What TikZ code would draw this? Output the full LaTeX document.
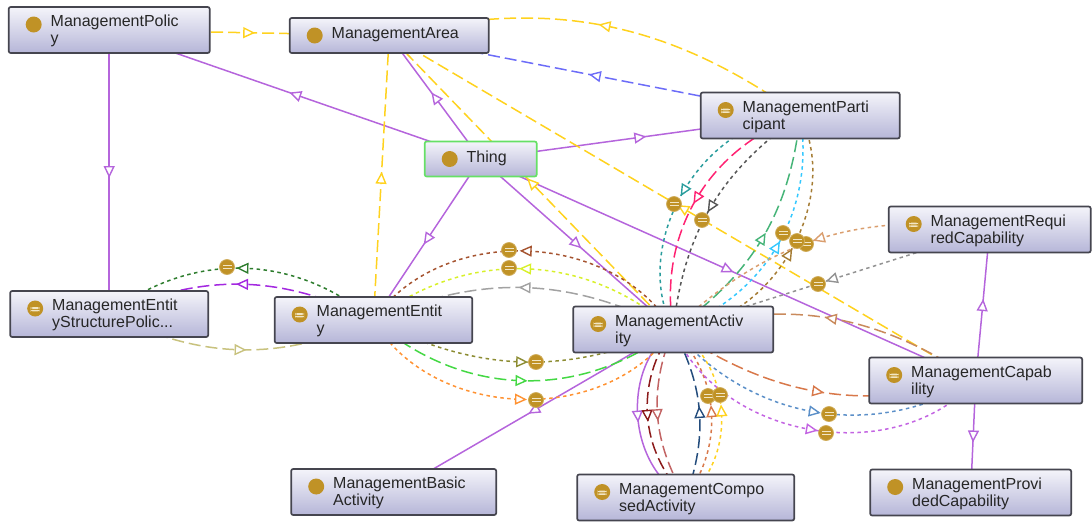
\documentclass[tikz,border=0pt]{standalone}
\usepackage{fontspec}
\setsansfont{Liberation Sans}
\usepackage{xcolor}
\usetikzlibrary{arrows.meta, positioning, decorations.markings}

\definecolor{boxborder}{HTML}{45454F}
\definecolor{boxtop}{HTML}{F4F4FA}
\definecolor{boxbottom}{HTML}{B6B6D8}
\definecolor{iconfill}{HTML}{C09226}
\definecolor{iconbar}{HTML}{F2E6C4}
\definecolor{thinggreen}{HTML}{66E066}
\definecolor{subclass}{HTML}{B565DC}
\definecolor{yellowline}{HTML}{FFD21E}
\definecolor{blueline}{HTML}{6C6CF8}
\definecolor{darkgreen}{HTML}{2E7D2E}
\definecolor{violet}{HTML}{A328E0}
\definecolor{khaki}{HTML}{C8C27E}
\definecolor{greyline}{HTML}{A2A2A2}
\definecolor{limeline}{HTML}{D8F02A}
\definecolor{rustline}{HTML}{A5532F}
\definecolor{oliveline}{HTML}{8C8C32}
\definecolor{greenline}{HTML}{44D844}
\definecolor{orangeline}{HTML}{FF9232}
\definecolor{darkred}{HTML}{8B1A1A}
\definecolor{palered}{HTML}{C26464}
\definecolor{navyline}{HTML}{234C7C}
\definecolor{coralline}{HTML}{D8784A}
\definecolor{steelline}{HTML}{5B8FC8}
\definecolor{orchidline}{HTML}{C364E2}
\definecolor{tanline}{HTML}{C98A5C}
\definecolor{tealline}{HTML}{2A9D9D}
\definecolor{pinkline}{HTML}{FF2272}
\definecolor{slateline}{HTML}{555555}
\definecolor{seagreen}{HTML}{46B478}
\definecolor{cyanline}{HTML}{34C8FF}
\definecolor{brownline}{HTML}{A57C34}
\definecolor{sandline}{HTML}{DA9E6E}
\definecolor{ashline}{HTML}{929292}

\pgfdeclarelayer{edges}
\pgfsetlayers{edges,main}

\begin{document}
\begin{tikzpicture}[
        x=1pt, y=1pt,
        class/.style={rectangle, draw=boxborder, line width=1.7pt, rounded corners=2pt, top color=boxtop, bottom color=boxbottom, inner xsep=0pt, inner ysep=0pt, outer sep=0pt, minimum height=46pt, align=left, text height=14pt, text=black!85, font=\sffamily\fontsize{16}{17}\selectfont, execute at begin node={\leftskip=42pt},
            path picture={\fill[iconfill] ([shift={(25pt,-17.5pt)}]path picture bounding box.north west) circle (8pt);}},
        shortclass/.style={class, minimum height=35pt, text depth=7.5pt},
        eqclass/.style={class,
            path picture={\fill[iconfill] ([shift={(25pt,-17.5pt)}]path picture bounding box.north west) circle (8pt);
                \fill[iconbar] ([shift={(20.5pt,-16.2pt)}]path picture bounding box.north west) rectangle ++(9pt,-1.6pt);
                \fill[iconbar] ([shift={(20.5pt,-20.4pt)}]path picture bounding box.north west) rectangle ++(9pt,1.6pt);}},
        badge/.style={circle, fill=iconfill, draw=iconfill!75!white, line width=0.8pt, minimum size=15pt, inner sep=0pt, outer sep=0pt,
            path picture={\fill[iconbar] ([shift={(-4.5pt,2.2pt)}]path picture bounding box.center) rectangle ++(9pt,-1.6pt);
                \fill[iconbar] ([shift={(-4.5pt,-2.2pt)}]path picture bounding box.center) rectangle ++(9pt,1.6pt);}},
        relation/.style={line width=1.5pt, postaction={decorate}, decoration={markings, mark=at position 0.5 with {\pgftransformxshift{6pt}\arrow{Triangle[fill=white, length=12pt, width=11pt, line width=1.4pt]}}}},
        dashedrelation/.style={relation, dash pattern=on 12pt off 5pt},
        dottedrelation/.style={relation, dash pattern=on 3.5pt off 3.5pt}
        ]
        \useasboundingbox (0,0) rectangle (1092,-523);

        % Classes
        \node[class, anchor=north west, text width=201pt] (policy) at (8.7,-7) {ManagementPolic\\y};
        \node[shortclass, text width=199pt, right=80pt of policy, yshift=-5.5pt] (area) {ManagementArea};
        \node[shortclass, text width=112pt, draw=thinggreen, below right=88.5pt and -64pt of area] (thing) {Thing};
        \node[eqclass, text width=199pt, below right=39.5pt and 212pt of area] (participant) {ManagementParti\\cipant};
        \node[eqclass, text width=202pt, below right=68pt and -11pt of participant] (required) {ManagementRequi\\redCapability};
        \node[eqclass, text width=198pt, below=238pt of policy] (entitypolicy) {ManagementEntit\\yStructurePolic...};
        \node[eqclass, text width=197.5pt, right=66.5pt of entitypolicy, yshift=-6pt] (entity) {ManagementEntit\\y};
        \node[class, text width=205pt, below right=126pt and -181pt of entity] (basic) {ManagementBasic\\Activity};
        \node[eqclass, text width=200pt, right=101pt of entity, yshift=-9.5pt] (activity) {ManagementActiv\\ity};
        \node[eqclass, text width=217pt, below=122pt of activity, xshift=12.5pt] (composed) {ManagementCompo\\sedActivity};
        \node[eqclass, text width=213pt, below right=5pt and 96pt of activity] (capability) {ManagementCapab\\ility};
        \node[class, text width=201pt, below=66pt of capability, xshift=-5pt] (provided) {ManagementProvi\\dedCapability};

        \begin{pgfonlayer}{edges}
        % Subclass relations
        \draw[relation, subclass] (policy.center) -- (entitypolicy.center);
        \draw[relation, subclass] (thing.center) -- (policy.center);
        \draw[relation, subclass] (thing.center) -- (area.center);
        \draw[relation, subclass] (thing.center) -- (entity.center);
        \draw[relation, subclass] (thing.center) -- (activity.center);
        \draw[relation, subclass] (thing.center) -- (participant.center);
        \draw[relation, subclass] (thing.center) -- (capability.center);
        \draw[relation, subclass] (capability.center) -- (required.center);
        \draw[relation, subclass] (capability.center) -- (provided.center);
        \draw[relation, subclass] (activity.center) -- (basic.center);
        \draw[relation, subclass] (activity.center) to[bend right=58] (composed.center);

        % Relations of the area
        \draw[dashedrelation, yellowline] (policy.center) -- (area.center);
        \draw[dashedrelation, yellowline] (entity.center) -- (area.center);
        \draw[dashedrelation, yellowline] (participant.center) to[bend right=24.5] (area.center);
        \draw[dashedrelation, yellowline] (activity.center) -- (area.center);
        \draw[dashedrelation, yellowline] (capability.center) -- (area.center);
        \draw[dashedrelation, blueline] (participant.center) -- (area.center);

        % Entity and its structure policy
        \draw[dottedrelation, darkgreen] (entity.center) to[bend right=39] (entitypolicy.center);
        \draw[dashedrelation, violet] (entity.center) to[bend right=25] (entitypolicy.center);
        \draw[dashedrelation, khaki] (entitypolicy.center) to[bend right=25] (entity.center);

        % Activity and entity
        \draw[dashedrelation, greyline] (activity.center) to[bend right=25] (entity.center);
        \draw[dottedrelation, limeline] (activity.center) to[bend right=39.5] (entity.center);
        \draw[dottedrelation, rustline] (activity.center) to[bend right=57] (entity.center);
        \draw[dottedrelation, oliveline] (entity.center) to[bend right=25] (activity.center);
        \draw[dashedrelation, greenline] (entity.center) to[bend right=39.5] (activity.center);
        \draw[dottedrelation, orangeline] (entity.center) to[bend right=58] (activity.center);

        % Activity and composed activity
        \draw[dashedrelation, darkred] (activity.center) to[bend right=40.5] (composed.center);
        \draw[dashedrelation, palered] (activity.center) to[bend right=26.5] (composed.center);
        \draw[dashedrelation, navyline] (composed.center) to[bend right=24] (activity.center);
        \draw[dottedrelation, coralline] (composed.center) to[bend right=40.5] (activity.center);
        \draw[dottedrelation, yellowline] (composed.center) to[bend right=58.5] (activity.center);

        % Activity and capability
        \draw[dashedrelation, coralline] (activity.center) to[bend right=24.5] (capability.center);
        \draw[dottedrelation, steelline] (activity.center) to[bend right=40] (capability.center);
        \draw[dottedrelation, orchidline] (activity.center) to[bend right=57.5] (capability.center);
        \draw[dashedrelation, tanline] (capability.center) to[bend right=24.5] (activity.center);

        % Participant and activity
        \draw[dottedrelation, tealline] (participant.center) to[bend right=58] (activity.center);
        \draw[dashedrelation, pinkline] (participant.center) to[bend right=40] (activity.center);
        \draw[dottedrelation, slateline] (participant.center) to[bend right=24.5] (activity.center);
        \draw[dashedrelation, seagreen] (activity.center) to[bend right=24.5] (participant.center);
        \draw[dottedrelation, cyanline] (activity.center) to[bend right=40] (participant.center);
        \draw[dottedrelation, brownline] (activity.center) to[bend right=57] (participant.center);

        % Required capability and activity
        \draw[dottedrelation, sandline] (required.center) to[bend right=26] (activity.center);
        \draw[dottedrelation, ashline] (required.center) -- (activity.center);
        \end{pgfonlayer}

        % Badges on the relations
        \node[badge] (eqgreen) at (227,-267) {};
        \node[badge] (eqrust) at (509,-250) {};
        \node[badge] (eqlime) at (509,-268) {};
        \node[badge] (eqolive) at (536,-362) {};
        \node[badge] (eqorange) at (536,-400) {};
        \node[badge] (eqcoral) at (708,-396) {};
        \node[badge] (eqgold) at (720,-395) {};
        \node[badge] (eqsteel) at (829,-414) {};
        \node[badge] (eqorchid) at (826,-433) {};
        \node[badge] (eqteal) at (674,-204) {};
        \node[badge] (eqslate) at (702,-220) {};
        \node[badge] (eqsand) at (806,-244) {};
        \node[badge] (eqbrown) at (797,-241) {};
        \node[badge] (eqcyan) at (783,-233) {};
        \node[badge] (eqash) at (818,-284) {};
        \end{tikzpicture}
\end{document}
